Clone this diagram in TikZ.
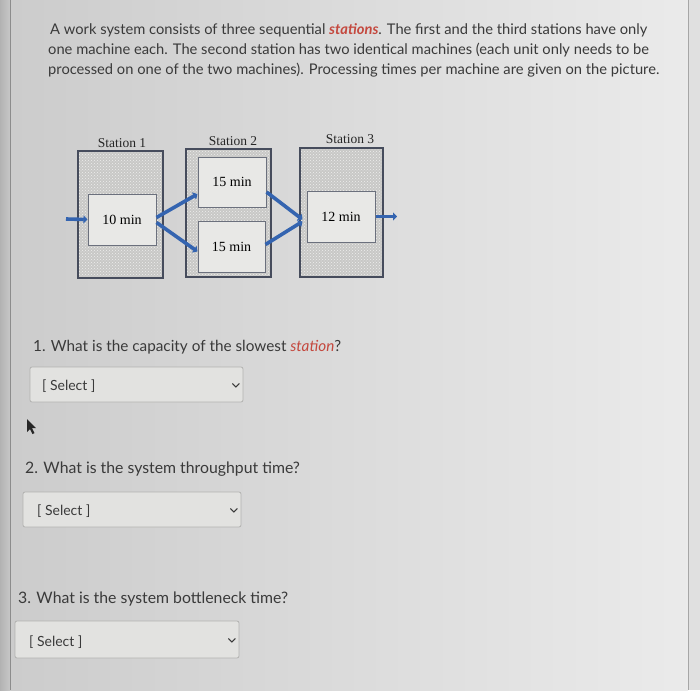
\documentclass[tikz,border=0pt]{standalone}
\usepackage{fontspec}
\setmainfont{Lato}
\newfontfamily\figfont{Liberation Serif}
\usepackage{tikz}
\usetikzlibrary{arrows.meta, positioning, patterns}
\usepackage{xcolor}
\definecolor{txtgray}{RGB}{58,58,58}
\definecolor{accred}{RGB}{196,72,62}
\definecolor{flowblue}{RGB}{52,100,176}
\definecolor{stfill}{RGB}{200,200,198}
\definecolor{mcfill}{RGB}{232,232,230}
\definecolor{edgedark}{RGB}{70,76,92}
\definecolor{selfill}{RGB}{226,226,224}
\definecolor{selline}{RGB}{178,178,176}

\begin{document}
\begin{tikzpicture}[
    x=1pt, y=-1pt,
    station/.style={rectangle, draw=edgedark, line width=1.6pt, preaction={fill=stfill}, pattern=crosshatch dots, pattern color=white!70!stfill, inner sep=0pt},
    machine/.style={rectangle, draw=edgedark!80, line width=1pt, fill=mcfill, inner sep=0pt, font=\figfont\fontsize{14}{16}\selectfont},
    stlabel/.style={font=\figfont\fontsize{13.5}{15}\selectfont, text=black!85},
    para/.style={anchor=base west, inner sep=0pt, text=txtgray, font=\fontsize{14.7}{17}\selectfont},
    question/.style={anchor=base west, inner sep=0pt, text=txtgray, font=\fontsize{15.8}{18}\selectfont},
    selbox/.style={rectangle, rounded corners=2pt, draw=selline, line width=0.8pt, fill=selfill, inner sep=0pt},
    seltext/.style={anchor=base west, inner sep=0pt, text=txtgray, font=\fontsize{14}{16}\selectfont},
    flow/.style={draw=flowblue, line width=3.6pt, -{Triangle[length=4pt, width=8pt]}}
]
    \useasboundingbox (0,0) rectangle (700,690);

    % Screen background
    \shade[left color=black!30, right color=black!22] (0,0) rectangle (10,690);
    \shade[left color=black!20, right color=black!8] (10,0) rectangle (688,690);
    \fill[black!12] (688,0) rectangle (700,690);
    \draw[black!45, line width=0.8pt] (10,0) -- (10,690);
    \draw[black!35, line width=0.8pt] (688,0) -- (688,690);

    % Problem text
    \node[para] (l1) at (50,35) {A work system consists of three sequential \textcolor{accred}{\textbf{\textit{stations}}}. The first and the third stations have only};
    \node[para] (l2) at (48,55) {one machine each. The second station has two identical machines (each unit only needs to be};
    \node[para] (l3) at (48,75) {processed on one of the two machines). Processing times per machine are given on the picture.};

    % Stations
    \node[station, minimum width=85pt, minimum height=127pt] (s1) at (120.5,214.5) {};
    \node[station, minimum width=85pt, minimum height=128pt] (s2) at (228.5,213) {};
    \node[station, minimum width=83pt, minimum height=129pt] (s3) at (341.5,212.5) {};

    \node[stlabel] (s1lab) at (122,143) {Station 1};
    \node[stlabel] (s2lab) at (233,141) {Station 2};
    \node[stlabel] (s3lab) at (350,139) {Station 3};

    % Machines
    \node[machine, minimum width=68pt, minimum height=51pt] (m1) at (122,219.5) {10 min};
    \node[machine, minimum width=68pt, minimum height=50pt] (m2a) at (232,182) {15 min};
    \node[machine, minimum width=67pt, minimum height=51pt] (m2b) at (231.5,246.5) {15 min};
    \node[machine, minimum width=68pt, minimum height=51pt] (m3) at (341,216.5) {12 min};

    % Flow arrows
    \coordinate (in) at (66,219);
    \coordinate (out) at (397,216.5);
    \draw[flow] (in) -- (m1.west);
    \draw[flow] ([yshift=2pt]m1.east) -- ([yshift=-12pt]m2a.west);
    \draw[flow] ([yshift=-3pt]m1.east) -- ([yshift=-5pt]m2b.west);
    \draw[flow] ([yshift=-10pt]m2a.east) -- ([xshift=-4pt, yshift=-3pt]m3.west);
    \draw[flow] ([yshift=2pt]m2b.east) -- ([xshift=-4pt, yshift=-5pt]m3.west);
    \draw[flow] (m3.east) -- (out);

    % Question 1
    \node[question, font=\fontsize{15.3}{18}\selectfont] (q1) at (33,351) {1. What is the capacity of the slowest \textcolor{accred}{\textit{station}}?};
    \node[selbox, minimum width=213pt, minimum height=35pt] (sel1) at (136.5,384.5) {};
    \node[seltext] (sel1t) at (42,390) {[ Select ]};
    \draw[txtgray, line width=1pt] ([xshift=-11pt, yshift=1pt]sel1.east) -- ([xshift=-7.5pt, yshift=-2.5pt]sel1.east) -- ([xshift=-4pt, yshift=1pt]sel1.east);

    % Cursor
    \fill[black!85] (27,419) -- (27,432) -- (30,429) -- (32.5,434) -- (34.5,433) -- (32,428) -- (36,428) -- cycle;

    % Question 2
    \node[question] (q2) at (25,473) {2. What is the system throughput time?};
    \node[selbox, minimum width=218pt, minimum height=35pt] (sel2) at (132,509.5) {};
    \node[seltext] (sel2t) at (37,515) {[ Select ]};
    \draw[txtgray, line width=1pt] ([xshift=-11pt, yshift=1pt]sel2.east) -- ([xshift=-7.5pt, yshift=-2.5pt]sel2.east) -- ([xshift=-4pt, yshift=1pt]sel2.east);

    % Question 3
    \node[question] (q3) at (18,603) {3. What is the system bottleneck time?};
    \node[selbox, minimum width=224pt, minimum height=37pt] (sel3) at (127,639.5) {};
    \node[seltext] (sel3t) at (29,646) {[ Select ]};
    \draw[txtgray, line width=1pt] ([xshift=-11pt, yshift=1pt]sel3.east) -- ([xshift=-7.5pt, yshift=-2.5pt]sel3.east) -- ([xshift=-4pt, yshift=1pt]sel3.east);

\end{tikzpicture}
\end{document}
